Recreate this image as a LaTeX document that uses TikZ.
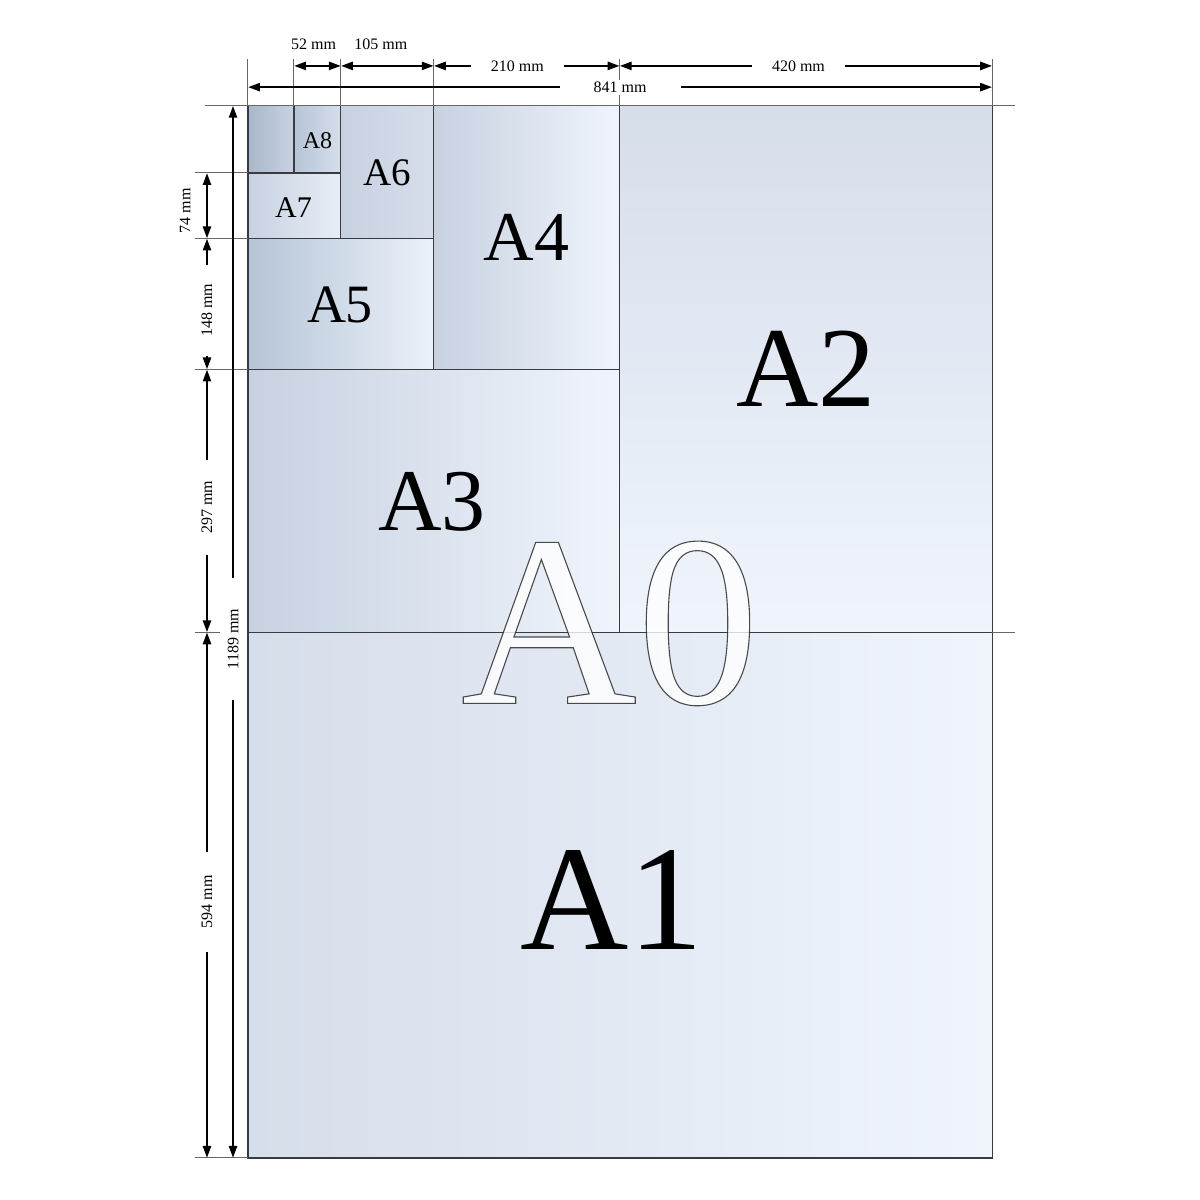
\documentclass[tikz,border=0pt]{standalone}
\usepackage{fontspec}
\setmainfont{Liberation Serif}
\usetikzlibrary{arrows.meta}

\definecolor{edgegray}{rgb}{0.22,0.23,0.26}
\definecolor{extgray}{rgb}{0.40,0.40,0.42}
\definecolor{paperA}{rgb}{0.84,0.87,0.92}
\definecolor{paperB}{rgb}{0.94,0.96,0.99}
\definecolor{paperC}{rgb}{0.78,0.82,0.88}
\definecolor{paperD}{rgb}{0.71,0.77,0.84}
\definecolor{paperE}{rgb}{0.66,0.72,0.80}

% outlined text for the big A0
\newcommand{\outlinetext}[1]{\special{pdf:literal direct 2 Tr 0.55 w 0.12 G}#1\special{pdf:literal direct 0 Tr}}

\begin{document}
\begin{tikzpicture}[x=0.4425pt, y=0.4425pt,
  edge/.style={draw=edgegray, line width=0.6pt},
  ext/.style={draw=extgray, line width=0.5pt},
  dim/.style={line width=1.2pt, {Triangle[length=6pt,width=4pt]}-{Triangle[length=6pt,width=4pt]}},
  dimtext/.style={font=\fontsize{8}{8}\selectfont, inner sep=1pt},
  dimgap/.style={dimtext, fill=white, inner xsep=#1},
  dimgap/.default=10pt,
  sheetname/.style={font=\fontsize{#1}{#1}\selectfont, inner sep=0pt}]

  \useasboundingbox (-280.2,-47.5) rectangle (1075.7,1308.5);

  % the sheets
  \shade[left color=paperA, right color=paperB] (0,0) rectangle (841,594);
  \shade[top color=paperA, bottom color=paperB] (420,594) rectangle (841,1189);
  \shade[left color=paperC, right color=paperB] (0,594) rectangle (420,891);
  \shade[shading angle=135, left color=paperC, right color=paperB] (210,891) rectangle (420,1189);
  \shade[left color=paperD, right color=paperB!90!paperC] (0,891) rectangle (210,1039);
  \shade[left color=paperC, right color=paperA] (105,1039) rectangle (210,1189);
  \shade[left color=paperC, right color=paperB!80!paperC] (0,1039) rectangle (105,1113);
  \shade[left color=paperD, right color=paperA] (52,1113) rectangle (105,1189);
  \shade[left color=paperE, right color=paperC] (0,1113) rectangle (52,1189);

  \draw[edge] (0,0) rectangle (841,1189);
  \draw[edge] (0,594) -- (841,594) (420,594) -- (420,1189);
  \draw[edge] (0,891) -- (420,891) (210,891) -- (210,1189);
  \draw[edge] (0,1039) -- (210,1039) (105,1039) -- (105,1189);
  \draw[edge] (0,1113) -- (105,1113) (52,1113) -- (52,1189);

  \node[sheetname=75] at (411,291) (a1) {A1};
  \node[sheetname=57] at (630.5,891.5) (a2) {A2};
  \node[sheetname=44] at (208,741) (a3) {A3};
  \node[sheetname=35] at (315,1040) (a4) {A4};
  \node[sheetname=27] at (104,964) (a5) {A5};
  \node[sheetname=19.5] at (157,1113) (a6) {A6};
  \node[sheetname=15] at (51.5,1074) (a7) {A7};
  \node[sheetname=12] at (78.5,1150) (a8) {A8};
  \node[sheetname=122, text=white, text opacity=0.8] at (409,604) (a0) {\outlinetext{A0}};

  % extension lines
  \foreach \x in {0,52,105,210,420,841}
    \draw[ext] (\x,1189) -- (\x,1242);
  \foreach \y in {0,891,1039,1113}
    \draw[ext] (-60,\y) -- (0,\y);
  \draw[ext] (-49,1189) -- (867,1189);
  \draw[ext] (-60,594) -- (-31.6,594) (841,594) -- (867,594);

  % dimension end points
  \foreach \x in {0,52,105,210,420,841} {
    \coordinate (top\x) at (\x,1234);
    \coordinate (row\x) at (\x,1210);
  }
  \foreach \y in {0,594,891,1039,1113}
    \coordinate (in\y) at (-46.3,\y);
  \coordinate (out0) at (-16.9,0);
  \coordinate (out1189) at (-16.9,1189);

  % widths
  \draw[dim] (top52) -- node[pos=0.42, yshift=11pt, dimtext] {52 mm} (top105);
  \draw[dim] (top105) -- node[pos=0.43, yshift=11pt, dimtext] {105 mm} (top210);
  \draw[dim] (top210) -- node[pos=0.45, dimgap] {210 mm} (top420);
  \draw[dim] (top420) -- node[pos=0.48, dimgap] {420 mm} (top841);
  \draw[dim] (row0) -- node[pos=0.5, dimgap=17pt] {841 mm} (row841);

  % heights
  \draw[dim] (in0) -- node[pos=0.487, rotate=90, dimgap=12pt] {594 mm} (in594);
  \draw[dim] (in594) -- node[pos=0.476, rotate=90, dimgap=10.5pt] {297 mm} (in891);
  \draw[dim] (in891) -- node[pos=0.45, rotate=90, dimgap=9.5pt] {148 mm} (in1039);
  \draw[dim] (in1039) -- node[pos=0.42, xshift=-11pt, rotate=90, dimtext] {74 mm} (in1113);
  \draw[dim] (out0) -- node[pos=0.493, rotate=90, dimgap=15.5pt] {1189 mm} (out1189);
\end{tikzpicture}
\end{document}
